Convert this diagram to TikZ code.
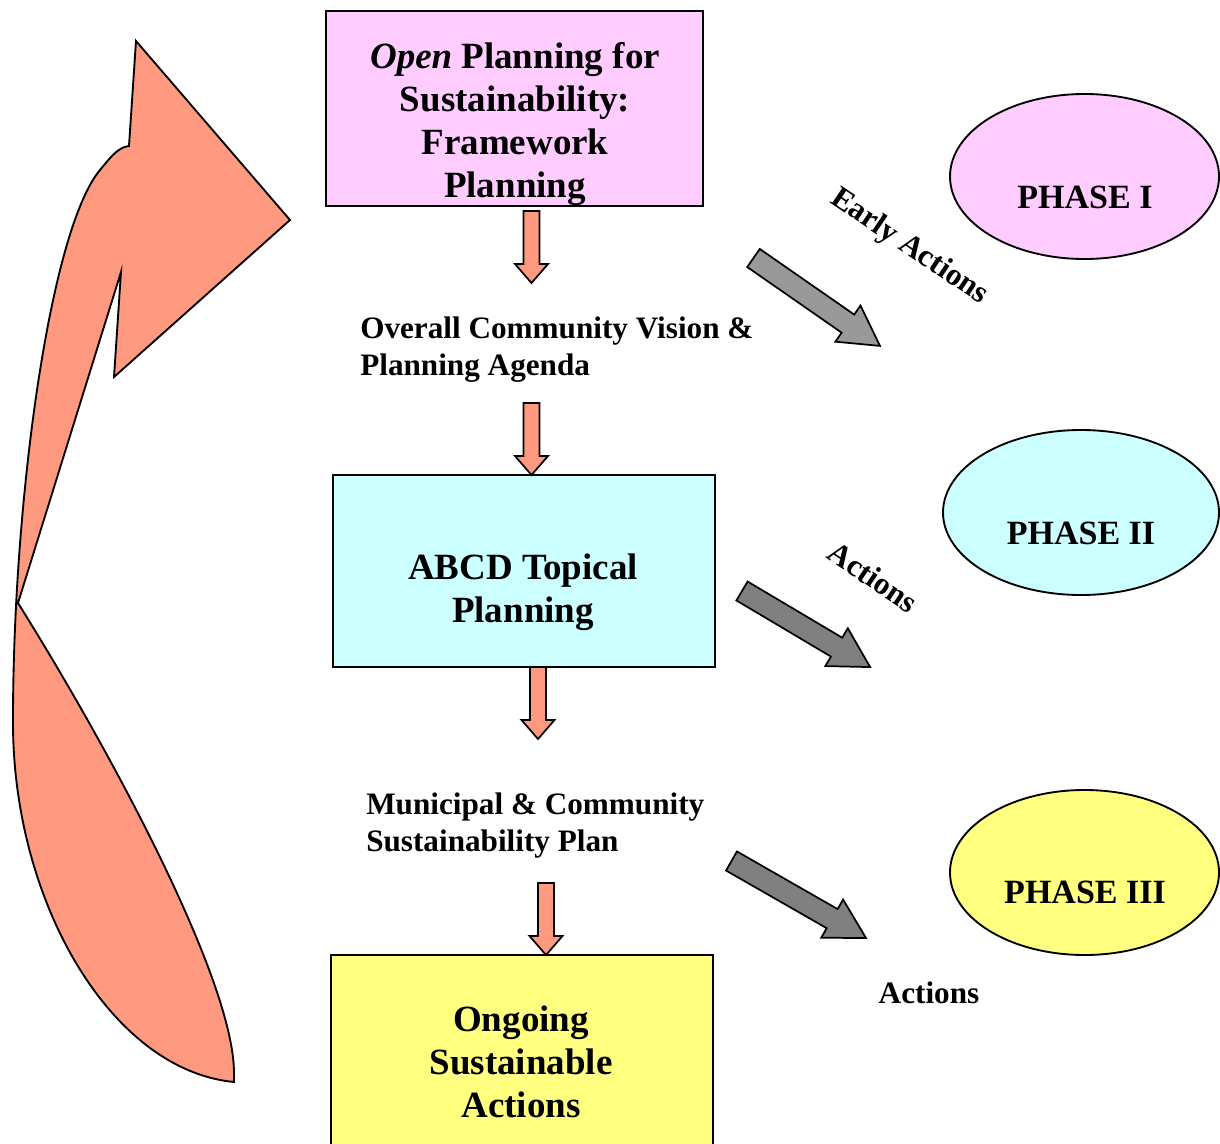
\documentclass[tikz,border=0pt]{standalone}
\usepackage{fontspec}
\setmainfont{Liberation Serif}
\usetikzlibrary{shapes.geometric}
\definecolor{pinkc}{HTML}{FFCCFF}
\definecolor{cyanc}{HTML}{CCFFFF}
\definecolor{yellowc}{HTML}{FFFF80}
\definecolor{salmonc}{HTML}{FF9980}
\definecolor{grayA}{HTML}{999999}
\definecolor{grayB}{HTML}{808080}
\newcommand{\downblock}[3]{%
  \draw[orangearrow] (#1-8,#2) -- (#1+8,#2) -- (#1+8,#3-19) -- (#1+16.5,#3-19) -- (#1,#3)
    -- (#1-16.5,#3-19) -- (#1-8,#3-19) -- cycle;}
\newcommand{\slantblock}[5]{%
  \draw[grayarrowstyle, fill=#5, shift={(#1,#2)}, rotate=#3] (0,-11) -- (#4-39,-11) -- (#4-39,-22)
    -- (#4,0) -- (#4-39,22) -- (#4-39,11) -- (0,11) -- cycle;}
\begin{document}
\begin{tikzpicture}[x=0.75pt,y=-0.75pt,
  boxstyle/.style={draw=black, line width=1.3pt, inner sep=0pt, rectangle},
  phasestyle/.style={draw=black, line width=1.4pt, ellipse, inner sep=0pt},
  titletext/.style={inner sep=0pt, align=center, font=\fontsize{27.75}{32.25}\selectfont\bfseries},
  smalltext/.style={inner sep=0pt, align=left, font=\fontsize{23.4}{27.75}\selectfont\bfseries},
  phasetext/.style={inner sep=0pt, font=\fontsize{25.5}{30}\selectfont\bfseries},
  orangearrow/.style={draw=black, fill=salmonc, line width=1.3pt, line join=miter},
  grayarrowstyle/.style={draw=black, line width=1.3pt, line join=miter}]
\useasboundingbox (0,0) rectangle (1220,1144);

% big curved return arrow
\draw[fill=salmonc, line width=1.4pt, line join=miter]
  (129,146) -- (136,41) -- (290,220) -- (114,377) -- (121,272) -- (18,603)
  .. controls (110,750) and (234,980) .. (234,1073) -- (234,1082)
  .. controls (110,1070) and (12,900) .. (13,720)
  .. controls (13,500) and (50,230) .. (100,170)
  .. controls (110,158) and (118,147) .. (129,146) -- cycle;

% boxes
\node[boxstyle, fill=pinkc, minimum width=282.75pt, minimum height=146.25pt] (box1) at (514.5,108.5) {};
\node[titletext, anchor=north] (t1) at (515,42) {\textit{Open} Planning for\\Sustainability:\\Framework\\Planning};

\node[boxstyle, fill=cyanc, minimum width=286.5pt, minimum height=144pt] (box2) at (524,571) {};
\node[titletext, anchor=north] (t2) at (523,554) {ABCD Topical\\Planning};

\node[boxstyle, fill=yellowc, minimum width=286.5pt, minimum height=153.75pt] (box3) at (522,1057.5) {};
\node[titletext, anchor=north] (t3) at (521,1006) {Ongoing\\Sustainable\\Actions};

% intermediate texts
\node[smalltext, anchor=north west] (vision) at (360,317) {Overall Community Vision \&\\Planning Agenda};
\node[smalltext, anchor=north west] (plan) at (366,793) {Municipal \& Community\\Sustainability Plan};

% orange down arrows
\downblock{531.5}{211}{283}
\downblock{531.5}{403}{475}
\downblock{538}{667}{739}
\downblock{546}{883}{955}

% phases
\node[phasestyle, fill=pinkc, minimum width=201.75pt, minimum height=123.75pt] (ph1) at (1084.5,176.5) {};
\node[phasetext] (ph1t) at (1085,197) {PHASE I};
\node[phasestyle, fill=cyanc, minimum width=207pt, minimum height=123.75pt] (ph2) at (1081,512.5) {};
\node[phasetext] (ph2t) at (1081,533) {PHASE II};
\node[phasestyle, fill=yellowc, minimum width=201.75pt, minimum height=123.75pt] (ph3) at (1084.5,872.5) {};
\node[phasetext] (ph3t) at (1085,892) {PHASE III};

% gray action arrows
\slantblock{753.5}{258}{-34.8}{154}{grayA}
\slantblock{742}{591}{-30.7}{149}{grayB}
\slantblock{731.5}{861}{-29.8}{155}{grayB}

% action labels
\node[smalltext, rotate=-34] (a1) at (909,247) {Early Actions};
\node[smalltext, rotate=-34] (a2) at (873,577) {Actions};
\node[smalltext] (a3) at (929,993) {Actions};
\end{tikzpicture}
\end{document}
